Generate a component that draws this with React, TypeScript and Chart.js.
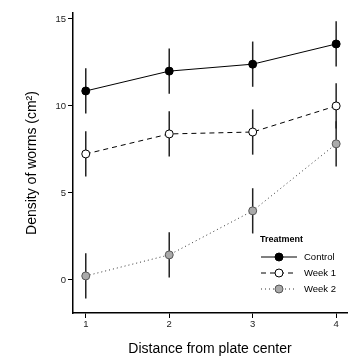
import React, { useEffect, useRef } from "react";
import { Chart, registerables } from "chart.js";

Chart.register(...registerables);

const distances = [1, 2, 3, 4];
const xTickValues = [1, 2, 3, 4];
const yTickValues = [0, 5, 10, 15];
const seriesNames = ["Control", "Week 1", "Week 2"];
const controlMeans = [10.86, 12.0, 12.4, 13.56];
const controlErr = [1.3, 1.3, 1.3, 1.3];
const week1Means = [7.24, 8.39, 8.5, 10.0];
const week1Err = [1.3, 1.3, 1.3, 1.3];
const week2Means = [0.23, 1.44, 3.97, 7.82];
const week2Err = [1.3, 1.3, 1.3, 1.3];

const FONT = "'Liberation Sans', Arial, Helvetica, sans-serif";

export default function App() {
  const ref = useRef<HTMLCanvasElement | null>(null);
  useEffect(() => {
    if (!ref.current) return;
    const errs = [controlErr, week1Err, week2Err];
    const styles = [
      { dash: [], color: "#000", fill: "#000", border: "#000" },
      { dash: [5, 4], color: "#000", fill: "#fff", border: "#000" },
      { dash: [1, 3], color: "#333", fill: "#aaa", border: "#555" },
    ];
    const means = [controlMeans, week1Means, week2Means];

    const errorBars = {
      id: "errorBars",
      beforeDatasetsDraw(chart: any) {
        const ctx = chart.ctx;
        const xs = chart.scales.x;
        const ys = chart.scales.y;
        ctx.save();
        ctx.strokeStyle = "#222";
        ctx.lineWidth = 1.5;
        means.forEach((m, si) => {
          m.forEach((v, i) => {
            const x = xs.getPixelForValue(distances[i]);
            ctx.beginPath();
            ctx.moveTo(x, ys.getPixelForValue(v - errs[si][i]));
            ctx.lineTo(x, ys.getPixelForValue(v + errs[si][i]));
            ctx.stroke();
          });
        });
        ctx.restore();
      },
    };

    const legendPlugin = {
      id: "customLegend",
      afterDraw(chart: any) {
        const ctx = chart.ctx;
        const ca = chart.chartArea;
        const x0 = ca.right - 87;
        const y0 = ca.bottom - 73;
        ctx.save();
        ctx.fillStyle = "#000";
        ctx.textBaseline = "middle";
        ctx.textAlign = "left";
        ctx.font = `bold 9px ${FONT}`;
        ctx.fillText("Treatment", x0, y0);
        seriesNames.forEach((name, i) => {
          const y = y0 + 17 + i * 16;
          const st = styles[i];
          ctx.strokeStyle = st.color;
          ctx.lineWidth = 1;
          ctx.setLineDash(st.dash);
          ctx.beginPath();
          ctx.moveTo(x0 + 1, y);
          ctx.lineTo(x0 + 37, y);
          ctx.stroke();
          ctx.setLineDash([]);
          ctx.beginPath();
          ctx.arc(x0 + 19, y, 4, 0, Math.PI * 2);
          ctx.fillStyle = st.fill;
          ctx.fill();
          ctx.strokeStyle = st.border;
          ctx.stroke();
          ctx.fillStyle = "#000";
          ctx.font = `9.5px ${FONT}`;
          ctx.fillText(name, x0 + 44, y + 0.5);
        });
        ctx.restore();
      },
    };

    const datasets = means.map((m, i) => ({
      label: seriesNames[i],
      data: m.map((v, j) => ({ x: distances[j], y: v })),
      borderColor: styles[i].color,
      borderWidth: 1,
      borderDash: styles[i].dash,
      pointRadius: 4,
      pointBackgroundColor: styles[i].fill,
      pointBorderColor: styles[i].border,
      pointBorderWidth: 1,
      showLine: true,
      tension: 0,
    }));

    const chart = new Chart(ref.current, {
      type: "scatter",
      data: { datasets },
      options: {
        animation: false,
        responsive: false,
        maintainAspectRatio: false,
        layout: { padding: 0 },
        plugins: { legend: { display: false }, tooltip: { enabled: false } },
        scales: {
          x: {
            type: "linear",
            min: 0.847,
            max: 4.13,
            afterBuildTicks: (s: any) => {
              s.ticks = xTickValues.map((v) => ({ value: v }));
            },
            afterFit: (s: any) => {
              s.height = 47;
              s.paddingLeft = 0;
              s.paddingRight = 0;
            },
            grid: { drawOnChartArea: false, drawTicks: true, tickLength: 5, color: "#000", lineWidth: 1 },
            border: { display: true, color: "#000", width: 1.5 },
            ticks: { color: "#222", font: { size: 9.5, family: FONT }, padding: 1, maxRotation: 0 },
            title: { display: true, text: "Distance from plate center", color: "#000", font: { size: 14, family: FONT }, padding: { top: 10, bottom: 2 } },
          },
          y: {
            type: "linear",
            min: -1.9,
            max: 15.34,
            afterBuildTicks: (s: any) => {
              s.ticks = yTickValues.map((v) => ({ value: v }));
            },
            afterFit: (s: any) => {
              s.width = 65;
              s.paddingTop = 0;
              s.paddingBottom = 0;
            },
            grid: { drawOnChartArea: false, drawTicks: true, tickLength: 5, color: "#000", lineWidth: 1 },
            border: { display: true, color: "#000", width: 1.5 },
            ticks: { color: "#222", font: { size: 9.5, family: FONT }, padding: 2 },
            title: { display: true, text: "Density of worms (cm²)", color: "#000", font: { size: 14, family: FONT }, padding: { top: 16, bottom: 0 } },
          },
        },
      },
      plugins: [errorBars, legendPlugin],
    });
    return () => chart.destroy();
  }, []);
  return <canvas ref={ref} width={344} height={352} style={{ display: "block" }} />;
}
